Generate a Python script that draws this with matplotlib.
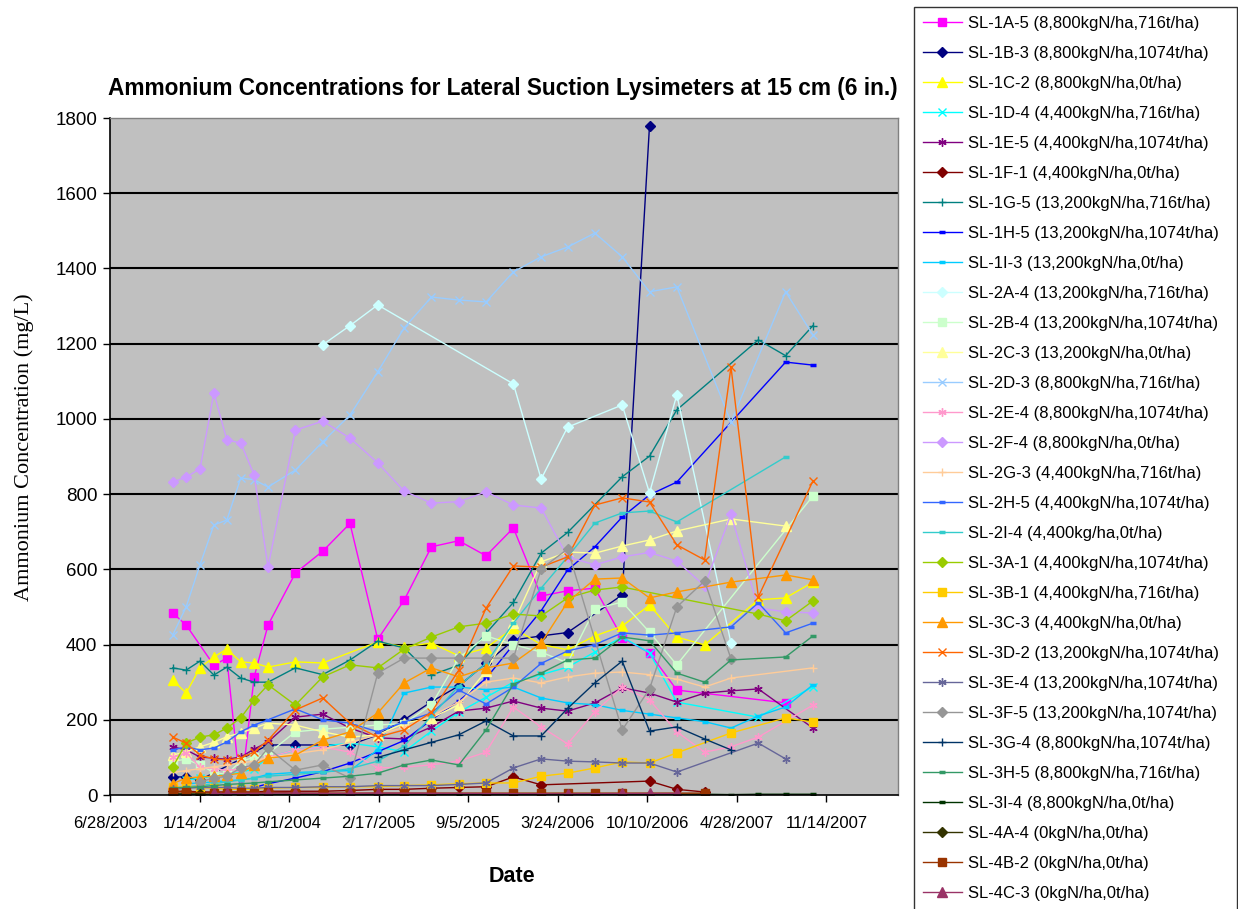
import numpy as np
import pandas as pd
import matplotlib
matplotlib.use('Agg')
import matplotlib.pyplot as plt
import matplotlib.ticker as mticker

plt.rcParams['font.family'] = ['Liberation Sans', 'DejaVu Sans']

nan = np.nan

# sampling dates (roughly monthly, then every two months)
dates = ['2003-11-15', '2003-12-15', '2004-01-15', '2004-02-15', '2004-03-15', '2004-04-15',
         '2004-05-15', '2004-06-15', '2004-08-15', '2004-10-15', '2004-12-15', '2005-02-15',
         '2005-04-15', '2005-06-15', '2005-08-15', '2005-10-15', '2005-12-15', '2006-02-15',
         '2006-04-15', '2006-06-15', '2006-08-15', '2006-10-15', '2006-12-15', '2007-02-15',
         '2007-04-15', '2007-06-15', '2007-08-15', '2007-10-15']

labels = ['SL-1A-5 (8,800kgN/ha,716t/ha)', 'SL-1B-3 (8,800kgN/ha,1074t/ha)',
          'SL-1C-2 (8,800kgN/ha,0t/ha)', 'SL-1D-4 (4,400kgN/ha,716t/ha)',
          'SL-1E-5 (4,400kgN/ha,1074t/ha)', 'SL-1F-1 (4,400kgN/ha,0t/ha)',
          'SL-1G-5 (13,200kgN/ha,716t/ha)', 'SL-1H-5 (13,200kgN/ha,1074t/ha)',
          'SL-1I-3 (13,200kgN/ha,0t/ha)', 'SL-2A-4 (13,200kgN/ha,716t/ha)',
          'SL-2B-4 (13,200kgN/ha,1074t/ha)', 'SL-2C-3 (13,200kgN/ha,0t/ha)',
          'SL-2D-3 (8,800kgN/ha,716t/ha)', 'SL-2E-4 (8,800kgN/ha,1074t/ha)',
          'SL-2F-4 (8,800kgN/ha,0t/ha)', 'SL-2G-3 (4,400kgN/ha,716t/ha)',
          'SL-2H-5 (4,400kgN/ha,1074t/ha)', 'SL-2I-4 (4,400kg/ha,0t/ha)',
          'SL-3A-1 (4,400kgN/ha,1074t/ha)', 'SL-3B-1 (4,400kgN/ha,716t/ha)',
          'SL-3C-3 (4,400kgN/ha,0t/ha)', 'SL-3D-2 (13,200kgN/ha,1074t/ha)',
          'SL-3E-4 (13,200kgN/ha,1074t/ha)', 'SL-3F-5 (13,200kgN/ha,1074t/ha)',
          'SL-3G-4 (8,800kgN/ha,1074t/ha)', 'SL-3H-5 (8,800kgN/ha,716t/ha)',
          'SL-3I-4 (8,800kgN/ha,0t/ha)', 'SL-4A-4 (0kgN/ha,0t/ha)',
          'SL-4B-2 (0kgN/ha,0t/ha)', 'SL-4C-3 (0kgN/ha,0t/ha)']

sl_1a5 = [484, 452, nan, 345, 364, 5, 314, 452, 590, 648, 722, 414, 518, 660, 676, 636, 710, 529, 543, 550, 418, 378, 279, nan, nan, nan, 245, nan]
sl_1b3 = [48, 48, 40, nan, nan, nan, nan, 133, 133, 133, 133, 160, 200, 248, 290, 350, 412, 423, 432, nan, 532, 1780, nan, nan, nan, nan, nan, nan]
sl_1c2 = [306, 271, 338, 367, 388, 354, 351, 340, 354, 351, nan, 407, 394, 404, 370, 391, 444, 400, 386, 423, 449, 505, 420, 399, nan, 519, 524, 566]
sl_1d4 = [nan, 40, 45, 50, 55, 60, 70, 100, 120, 130, 138, 128, 115, 170, 220, 260, 300, 320, 340, 380, 420, 378, 247, nan, nan, 207, nan, 288]
sl_1e5 = [128, 120, 101, 98, 95, 101, 122, 141, 207, 215, 178, 152, 149, 181, 223, 231, 250, 231, 223, 245, 285, 271, 247, 271, 277, 282, nan, 178]
sl_1f1 = [10, 10, 8, 8, 8, 8, 8, 10, 10, 10, 12, 15, 15, 18, 20, 22, 48, 27, nan, nan, nan, 37, 15, 8, nan, nan, nan, nan]
sl_1g5 = [338, 332, 356, 319, 340, 311, 300, 300, 338, 320, 359, 409, 391, 319, 345, 430, 512, 643, 698, nan, 846, 901, 1024, nan, nan, 1210, 1168, 1248]
sl_1h5 = [nan, nan, nan, nan, nan, nan, 20, 30, 45, 62, 85, 115, 145, 200, 250, 310, 400, 490, 598, 660, 739, 798, 832, nan, nan, nan, 1151, 1143]
sl_1i3 = [nan, 30, 32, 35, 38, 40, 45, 55, 60, 62, 65, 120, 271, 287, 287, 280, 287, 258, 245, 240, 225, 215, 205, 195, 178, 210, 234, 293]
sl_2a4 = [nan, nan, nan, nan, nan, nan, nan, nan, nan, 1197, 1248, 1303, nan, nan, nan, nan, 1093, 840, 978, nan, 1037, 803, 1064, nan, 404, nan, nan, nan]
sl_2b4 = [90, 95, 80, 60, 55, 90, 100, 110, 168, 175, 180, 186, 190, 240, 364, 423, 400, 380, 351, 495, 513, 433, 346, nan, nan, nan, nan, 795]
sl_2c3 = [106, 115, 128, 140, 155, 165, 178, 191, 186, 168, 154, 160, 191, 205, 240, 330, 457, 620, 646, 643, 662, 678, 702, nan, 734, nan, 715, nan]
sl_2d3 = [425, 500, 612, 718, 731, 843, 838, 819, 864, 939, 1010, 1125, 1242, 1324, 1316, 1311, 1391, 1431, 1457, 1494, 1431, 1338, 1351, nan, 992, nan, 1338, 1223]
sl_2e4 = [100, 112, 74, 70, 65, 70, 80, 100, 120, 128, 114, 72, 74, 80, 90, 114, 234, 181, 136, 221, 287, 253, 168, 114, 128, 154, nan, 239]
sl_2f4 = [832, 845, 867, 1069, 944, 936, 851, 606, 970, 994, 949, 883, 808, 776, 780, 806, 771, 763, 633, 612, 633, 645, 622, 556, 747, 497, 487, 484]
sl_2g3 = [60, 65, 70, 75, 80, 85, 90, 100, 110, 120, 140, 160, 180, 210, 247, 300, 311, 298, 314, 324, 327, 320, 308, 287, 311, nan, nan, 338]
sl_2h5 = [120, 128, 120, 125, 141, 168, 186, 200, 229, 200, 191, 168, 194, 218, 279, 242, 287, 350, 383, 400, 431, 425, 431, nan, 447, 511, 431, 457]
sl_2i4 = [20, 22, 25, 30, 35, 40, 45, 50, 55, 60, 70, 90, 130, 210, 290, 350, 457, 550, 633, 723, 750, 755, 726, nan, nan, nan, 899, nan]
sl_3a1 = [74, 138, 154, 160, 178, 205, 253, 293, 239, 314, 346, 338, 388, 420, 447, 457, 481, 476, 524, 545, 553, nan, nan, nan, nan, 481, 463, 516]
sl_3b1 = [20, 22, 20, 18, 15, 15, 15, 18, 20, 20, 22, 22, 25, 27, 30, 32, 32, 50, 58, 72, 88, 85, 112, nan, 165, nan, 205, 194]
sl_3c3 = [30, 45, 48, 50, 53, 58, 80, 98, 106, 146, 168, 218, 298, 338, 314, 338, 351, 404, 513, 574, 577, 524, 540, nan, 566, nan, 585, 572]
sl_3d2 = [154, 138, 106, 96, 93, 98, 114, 146, 226, 258, 191, 154, 173, 220, 332, 497, 609, 606, 633, 771, 790, 779, 665, 625, 1138, 527, nan, 835]
sl_3e4 = [15, 18, 20, 20, 20, 18, 18, 20, 20, 22, 22, 25, 25, 25, 28, 32, 72, 96, 90, 88, 85, 85, 61, nan, nan, 138, 96, nan]
sl_3f5 = [nan, nan, 35, 45, 50, 72, 80, 125, 66, 80, 45, 324, 364, 364, 364, 364, 364, 601, 654, nan, 173, 282, 500, 569, 362, nan, nan, nan]
sl_3g4 = [nan, nan, nan, nan, nan, nan, nan, nan, nan, nan, nan, 100, 120, 140, 160, 197, 157, 157, 230, 298, 356, 170, 181, 149, 120, nan, nan, nan]
sl_3h5 = [19, 20, 22, 25, 28, 30, 32, 35, 40, 45, 50, 58, 80, 93, 80, 173, 295, 324, 359, 364, 420, 410, 324, 300, 359, nan, 367, 423]
sl_3i4 = [2, 2, 2, 2, 2, 2, 2, 2, 2, 2, 2, 2, 2, 2, 2, 2, 2, 2, 2, 2, 2, 2, 2, 2, 1, 2, 2, 2]
sl_4a4 = [3, 3, 2, nan, nan, nan, nan, nan, nan, nan, nan, nan, nan, nan, nan, nan, nan, nan, nan, nan, nan, nan, nan, nan, nan, nan, nan, nan]
sl_4b2 = [8, 8, nan, 5, 5, 8, 5, 8, 5, 5, 5, 5, 5, 5, nan, 5, 5, 5, 5, 5, 5, nan, nan, 5, nan, nan, nan, nan]
sl_4c3 = [nan, nan, nan, 4, 4, nan, nan, 5, 5, nan, 4, 5, nan, nan, nan, nan, nan, nan, 3, nan, 4, 4, 4, nan, nan, nan, nan, nan]

series = [sl_1a5, sl_1b3, sl_1c2, sl_1d4, sl_1e5, sl_1f1, sl_1g5, sl_1h5, sl_1i3,
          sl_2a4, sl_2b4, sl_2c3, sl_2d3, sl_2e4, sl_2f4, sl_2g3, sl_2h5, sl_2i4,
          sl_3a1, sl_3b1, sl_3c3, sl_3d2, sl_3e4, sl_3f5, sl_3g4, sl_3h5, sl_3i4,
          sl_4a4, sl_4b2, sl_4c3]

colors = ['#FF00FF', '#000080', '#FFFF00', '#00FFFF', '#800080', '#800000', '#008080', '#0000FF', '#00CCFF',
          '#CCFFFF', '#CCFFCC', '#FFFF99', '#99CCFF', '#FF99CC', '#CC99FF', '#FFCC99', '#3366FF', '#33CCCC',
          '#99CC00', '#FFCC00', '#FF9900', '#FF6600', '#666699', '#969696', '#003366', '#339966', '#003300',
          '#333300', '#993300', '#993366']

ast = (6, 2, 0)
markers = ['s', 'D', '^', 'x', ast, 'D', '+', '_', '_',
           'D', 's', '^', 'x', ast, 'D', '+', '_', '_',
           'D', 's', '^', 'x', ast, 'D', '+', '_', '_',
           'D', 's', '^']

x = pd.to_datetime(dates)

fig = plt.figure(figsize=(12.38, 9.09), dpi=100)
ax = fig.add_axes([110 / 1238, 1 - 795 / 909, (898 - 110) / 1238, (795 - 118) / 909])
ax.set_facecolor('#C0C0C0')

for vals, c, m, lab in zip(series, colors, markers, labels):
    v = np.array(vals, dtype=float)
    ok = ~np.isnan(v)
    ms = 5
    mew = 1
    if m == '^':
        ms = 6.5
    elif m == 's':
        ms = 5.5
    elif m == '_':
        ms = 5
        mew = 2.5
    elif m in ('x', '+') or m == ast:
        ms = 6
    ax.plot(x[ok], v[ok], color=c, lw=1.0, marker=m, ms=ms, mew=mew,
            markerfacecolor=c, markeredgecolor=c, label=lab)

# axes
xmin = pd.Timestamp('2003-06-28')
ax.set_xlim(xmin, xmin + pd.Timedelta(days=1760))
ax.set_ylim(0, 1800)
xt = pd.date_range(xmin, periods=9, freq='200D')
ax.set_xticks(xt)
ax.set_xticklabels([f'{d.month}/{d.day}/{d.year}' for d in xt], fontsize=12)
ax.yaxis.set_major_locator(mticker.MultipleLocator(200))
ax.tick_params(axis='y', labelsize=13.5, length=5, width=1, direction='out', pad=4)
ax.tick_params(axis='x', length=5, width=1, direction='out', pad=10)

for yv in range(200, 1800, 200):
    ax.axhline(yv, color='black', lw=1.5, zorder=0.5)

for s in ['top', 'right']:
    ax.spines[s].set_color('#808080')
    ax.spines[s].set_linewidth(1)
for s in ['left', 'bottom']:
    ax.spines[s].set_color('black')
    ax.spines[s].set_linewidth(1.2)

fig.text(503 / 1238, 1 - 88 / 909,
         'Ammonium Concentrations for Lateral Suction Lysimeters at 15 cm (6 in.)',
         ha='center', va='center', fontsize=16.3, fontweight='bold')
fig.text(512 / 1238, 1 - 876 / 909, 'Date', ha='center', va='center',
         fontsize=15.5, fontweight='bold')
fig.text(24 / 1238, 1 - 447 / 909, 'Ammonium Concentration (mg/L)', rotation=90,
         ha='center', va='center', fontsize=16, family=['Liberation Serif', 'DejaVu Serif'])

leg = fig.legend(loc='upper left', bbox_to_anchor=(914 / 1238, 0, 323 / 1238, 1 - 7 / 909),
                 mode='expand', fontsize=12, frameon=True, fancybox=False, edgecolor='black',
                 borderaxespad=0, borderpad=0.55, labelspacing=0.9,
                 handlelength=2.3, handletextpad=0.4)
leg.get_frame().set_linewidth(1.0)

fig.savefig('out.png', dpi=100)
